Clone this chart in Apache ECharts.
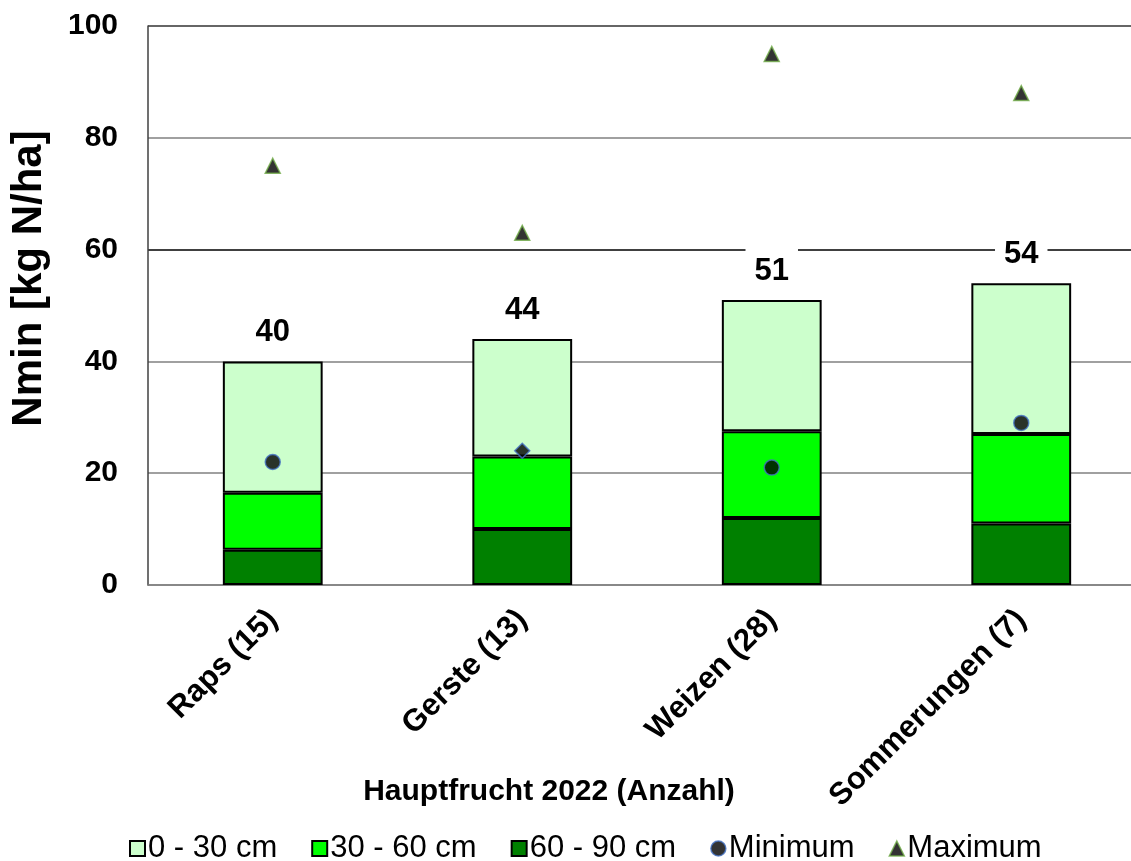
<!DOCTYPE html>
<html>
<head>
<meta charset="utf-8">
<script src="https://cdn.jsdelivr.net/npm/echarts@6/dist/echarts.min.js"></script>
<style>
  html, body { margin: 0; padding: 0; background: #fff; overflow: hidden; }
  /* the plot runs slightly past the right edge of the window */
  #chart { width: 1146px; height: 861px; }
</style>
</head>
<body>
<div id="chart"></div>
<script>
// Nmin by soil depth per main crop 2022
const categories = ['Raps (15)', 'Gerste (13)', 'Weizen (28)', 'Sommerungen (7)'];
const depth60to90 = [6.3, 10, 12, 11];
const depth30to60 = [10.2, 13, 15.5, 16];
const depth0to30 = [23.5, 21, 23.5, 27];
const minimum = [22, 24, 21, 29];
const maximum = [75, 63, 95, 88];
const yTicks = [0, 20, 40, 60, 80, 100];

const FONT = 'Arial, "Liberation Sans", sans-serif';
const totals = categories.map((_, i) =>
  Math.round(depth60to90[i] + depth30to60[i] + depth0to30[i]));

const barBorder = { borderColor: '#000', borderWidth: 2 };

const chart = echarts.init(document.getElementById('chart'), null, { renderer: 'canvas' });
chart.setOption({
  animation: false,
  textStyle: { fontFamily: FONT },
  grid: { left: 148, top: 26, right: 0, bottom: 276, containLabel: false },
  // x-axis title, placed between the slanted category labels and the legend
  graphic: [{
    type: 'text', x: 549, y: 792,
    style: {
      text: 'Hauptfrucht 2022 (Anzahl)',
      font: 'bold 30px ' + FONT, fill: '#000',
      align: 'center', verticalAlign: 'middle'
    }
  }],
  legend: {
    top: 828, left: 124,
    itemWidth: 15, itemHeight: 15, itemGap: 34,
    textStyle: { fontSize: 31, color: '#000', fontFamily: FONT, padding: [0, 0, 0, -2] },
    data: [
      { name: '0 - 30 cm', icon: 'rect' },
      { name: '30 - 60 cm', icon: 'rect' },
      { name: '60 - 90 cm', icon: 'rect' },
      { name: 'Minimum', icon: 'circle', itemStyle: { color: '#000', borderColor: '#4472C4', borderWidth: 1.5 } },
      { name: 'Maximum', icon: 'triangle', itemStyle: { color: '#000', borderColor: '#70AD47', borderWidth: 1.5 } }
    ]
  },
  xAxis: {
    type: 'category',
    data: categories,
    boundaryGap: true,
    axisLine: { lineStyle: { color: '#808080', width: 1.5 } },
    axisTick: { show: false },
    axisLabel: {
      rotate: 45, interval: 0, margin: 30,
      fontSize: 31, fontWeight: 'bold', color: '#000', fontFamily: FONT
    }
  },
  yAxis: {
    type: 'value',
    min: 0, max: 100, interval: 20,
    name: 'Nmin [kg N/ha]',
    nameLocation: 'middle',
    nameGap: 98,
    nameTextStyle: {
      fontSize: 42, fontWeight: 'bold', color: '#000', fontFamily: FONT,
      padding: [0, 0, 0, 54]
    },
    axisLine: { show: true, lineStyle: { color: '#404040', width: 1.5 } },
    axisTick: { show: false },
    axisLabel: {
      margin: 30, fontSize: 30, fontWeight: 'bold', color: '#000', fontFamily: FONT,
      formatter: v => yTicks.includes(v) ? String(v) : ''
    },
    splitLine: {
      lineStyle: {
        color: ['#808080', '#808080', '#808080', '#000000', '#808080', '#333333'],
        width: 1.5
      }
    }
  },
  series: [
    {
      name: '60 - 90 cm', type: 'bar', stack: 'n', barWidth: '40%',
      itemStyle: Object.assign({ color: '#008000' }, barBorder),
      data: depth60to90
    },
    {
      name: '30 - 60 cm', type: 'bar', stack: 'n',
      itemStyle: Object.assign({ color: '#00FF00' }, barBorder),
      data: depth30to60
    },
    {
      name: '0 - 30 cm', type: 'bar', stack: 'n',
      itemStyle: Object.assign({ color: '#CCFFCC' }, barBorder),
      label: {
        show: true, position: 'top', distance: 11,
        formatter: p => String(totals[p.dataIndex]),
        fontSize: 31, fontWeight: 'bold', color: '#000', fontFamily: FONT,
        backgroundColor: '#fff', padding: [8, 9, 2, 9]
      },
      data: depth0to30
    },
    {
      name: 'Minimum', type: 'scatter', z: 5,
      itemStyle: { color: '#000', borderColor: '#4472C4', borderWidth: 1.5 },
      data: minimum.map((v, i) => ({
        value: v,
        symbol: i === 1 ? 'diamond' : 'circle',
        symbolSize: 15
      }))
    },
    {
      name: 'Maximum', type: 'scatter', z: 5,
      symbol: 'triangle', symbolSize: 15,
      itemStyle: { color: '#000', borderColor: '#70AD47', borderWidth: 1.5 },
      data: maximum
    }
  ]
});
</script>
</body>
</html>
